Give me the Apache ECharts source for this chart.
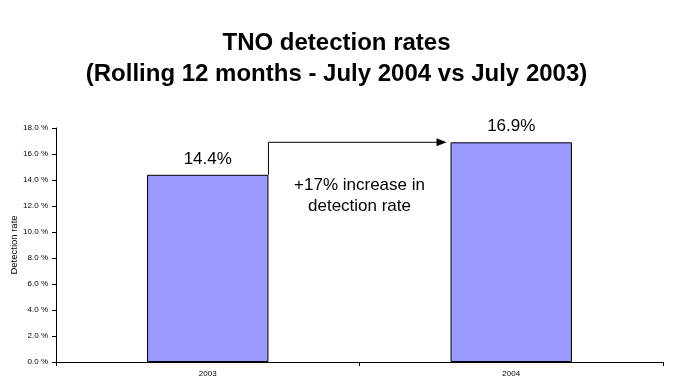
<!DOCTYPE html>
<html>
<head>
<meta charset="utf-8">
<script src="https://cdn.jsdelivr.net/npm/echarts@6/dist/echarts.min.js"></script>
<style>
html,body{margin:0;padding:0;background:#fff;}
#c{width:673px;height:389px;}
</style>
</head>
<body>
<div id="c"></div>
<script>
var categories = ['2003', '2004'];
var rates = [14.4, 16.9];
var yTicks = [0, 2, 4, 6, 8, 10, 12, 14, 16, 18];
var titleText = 'TNO detection rates\n(Rolling 12 months - July 2004 vs July 2003)';
var annotationText = '+17% increase in\ndetection rate';
var yAxisName = 'Detection rate';

var chart = echarts.init(document.getElementById('c'), null, {renderer: 'canvas'});
var barRatio = 0.4;

chart.setOption({
  backgroundColor: '#fff',
  animation: false,
  title: {
    text: titleText,
    left: 'center',
    top: 23,
    textStyle: {
      fontFamily: 'Liberation Sans, Arial, sans-serif',
      fontSize: 24,
      fontWeight: 'bold',
      color: '#000',
      lineHeight: 31
    }
  },
  grid: {left: 56, right: 10, top: 128, bottom: 27, containLabel: false, outerBoundsMode: 'none'},
  xAxis: {
    type: 'category',
    data: categories,
    boundaryGap: true,
    axisLine: {lineStyle: {color: '#000', width: 1}},
    axisTick: {show: true, interval: 0, length: 4, lineStyle: {color: '#000'}},
    axisLabel: {fontFamily: 'Liberation Sans, Arial, sans-serif', fontSize: 8, color: '#000', margin: 8}
  },
  yAxis: {
    type: 'value',
    min: yTicks[0],
    max: yTicks[yTicks.length - 1],
    interval: yTicks[1] - yTicks[0],
    name: yAxisName,
    nameLocation: 'middle',
    nameRotate: 90,
    nameGap: 37,
    nameMoveOverlap: false,
    nameTextStyle: {fontFamily: 'Liberation Sans, Arial, sans-serif', fontSize: 9.5, color: '#000'},
    axisLine: {show: true, lineStyle: {color: '#000', width: 1}},
    axisTick: {show: true, length: 4, lineStyle: {color: '#000'}},
    splitLine: {show: false},
    axisLabel: {
      fontFamily: 'Liberation Sans, Arial, sans-serif', fontSize: 8, color: '#000', margin: 8,
      formatter: function (v) { return v.toFixed(1) + ' %'; }
    }
  },
  series: [
    {
      type: 'bar',
      data: rates,
      barWidth: (barRatio * 100) + '%',
      itemStyle: {color: '#9999FF', borderColor: '#000', borderWidth: 1},
      label: {
        show: true,
        position: 'top',
        distance: 7,
        fontFamily: 'Liberation Sans, Arial, sans-serif',
        fontSize: 17,
        color: '#000',
        formatter: function (p) { return p.value.toFixed(1) + '%'; }
      }
    },
    {
      type: 'custom',
      data: [[0, rates[0], 1, rates[1]]],
      silent: true,
      z: 5,
      renderItem: function (params, api) {
        var p1 = api.coord([api.value(0), api.value(1)]);
        var p2 = api.coord([api.value(2), api.value(3)]);
        var band = api.size([1, 0])[0];
        var x1 = p1[0] + band * barRatio / 2;
        var x2 = p2[0] - band * barRatio / 2 - 4;
        var yTop = p2[1];
        var ah = 10, aw = 4;
        return {
          type: 'group',
          children: [
            {
              type: 'polyline',
              shape: {points: [[x1, p1[1]], [x1, yTop], [x2 - ah + 1, yTop]]},
              style: {stroke: '#000', lineWidth: 1, fill: null}
            },
            {
              type: 'polygon',
              shape: {points: [[x2, yTop], [x2 - ah, yTop - aw], [x2 - ah, yTop + aw]]},
              style: {fill: '#000'}
            },
            {
              type: 'text',
              style: {
                text: annotationText,
                x: (p1[0] + p2[0]) / 2,
                y: yTop + 33,
                align: 'center',
                verticalAlign: 'top',
                fontFamily: 'Liberation Sans, Arial, sans-serif',
                fontSize: 17,
                lineHeight: 21,
                fill: '#000'
              }
            }
          ]
        };
      }
    }
  ]
});
</script>
</body>
</html>
